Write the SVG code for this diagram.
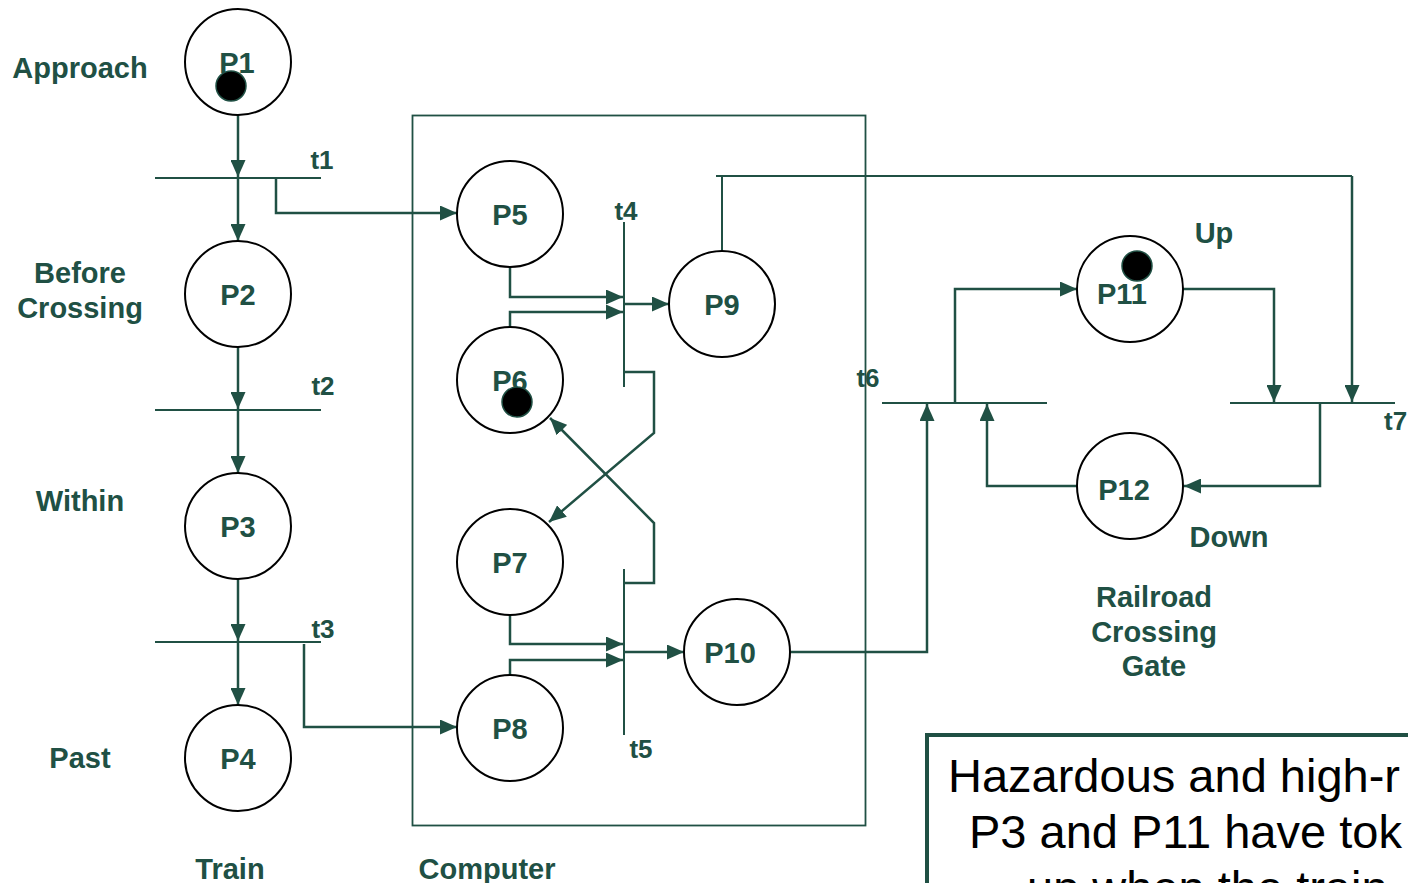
<svg xmlns="http://www.w3.org/2000/svg" width="1408" height="883" viewBox="0 0 1408 883">
<style>
.place{fill:#fff;stroke:#000;stroke-width:2}
.tok{fill:#000;stroke:#205044;stroke-width:1.5}
.lbl{font-family:"Liberation Sans",Arial,sans-serif;font-weight:bold;font-size:29px;fill:#205044;text-anchor:middle}
.tl{font-family:"Liberation Sans",Arial,sans-serif;font-weight:bold;font-size:26px;fill:#205044;text-anchor:middle}
.bar{stroke:#205044;stroke-width:2;fill:none}
.arc{stroke:#205044;stroke-width:2.5;fill:none;marker-end:url(#ah)}
.note{font-family:"Liberation Sans",Arial,sans-serif;font-size:47px;fill:#000}
</style>
<defs>
<marker id="ah" markerUnits="userSpaceOnUse" markerWidth="17" markerHeight="15" refX="17" refY="7.5" orient="auto">
<path d="M0,0 L17,7.5 L0,15 z" fill="#205044"/>
</marker>
</defs>
<rect width="1408" height="883" fill="#fff"/>
<g id="computer-box"><rect x="412.5" y="115.5" width="453" height="710" fill="none" stroke="#205044" stroke-width="1.8"/></g>
<g id="transitions">
<path class="bar" d="M155,178 H321"/>
<path class="bar" d="M155,410 H321"/>
<path class="bar" d="M155,642 H321"/>
<path class="bar" d="M624,222 V387"/>
<path class="bar" d="M624,569 V735"/>
<path class="bar" d="M882,403 H1047"/>
<path class="bar" d="M1230,403 H1395"/>
</g>
<g id="connectors">
<path class="arc" d="M238,115 V177"/>
<path class="arc" d="M238,179 V241"/>
<path class="arc" d="M238,347 V409"/>
<path class="arc" d="M238,411 V473"/>
<path class="arc" d="M238,579 V641"/>
<path class="arc" d="M238,643 V705"/>
<path class="arc" d="M276,177 V213 H457"/>
<path class="arc" d="M304,644 V727 H457"/>
<path class="arc" d="M510,267 V297 H623"/>
<path class="arc" d="M510,327 V312 H623"/>
<path class="arc" d="M624,304 H669"/>
<path class="arc" d="M624,372 H654 V433 L549,522"/>
<path class="arc" d="M624,583 H654 V523 L550,418"/>
<path class="arc" d="M510,615 V644 H623"/>
<path class="arc" d="M510,675 V660 H623"/>
<path class="arc" d="M624,652 H684"/>
<path class="bar" d="M722,251 V176 M716,176 H1352"/>
<path class="arc" d="M1352,176 V402"/>
<path class="arc" d="M791,652 H927 V404"/>
<path class="arc" d="M1077,486 H987 V404"/>
<path class="arc" d="M955,403 V289 H1077"/>
<path class="arc" d="M1183,289 H1274 V402"/>
<path class="arc" d="M1320,403 V486 H1184"/>
</g>
<g id="P1"><circle class="place" cx="238" cy="62" r="53"/><text class="lbl" x="237" y="73">P1</text><circle class="tok" cx="231" cy="86" r="15"/></g>
<g id="P2"><circle class="place" cx="238" cy="294" r="53"/><text class="lbl" x="238" y="305">P2</text></g>
<g id="P3"><circle class="place" cx="238" cy="526" r="53"/><text class="lbl" x="238" y="537">P3</text></g>
<g id="P4"><circle class="place" cx="238" cy="758" r="53"/><text class="lbl" x="238" y="769">P4</text></g>
<g id="P5"><circle class="place" cx="510" cy="214" r="53"/><text class="lbl" x="510" y="225">P5</text></g>
<g id="P6"><circle class="place" cx="510" cy="380" r="53"/><text class="lbl" x="510" y="391">P6</text><circle class="tok" cx="517" cy="402" r="15"/></g>
<g id="P7"><circle class="place" cx="510" cy="562" r="53"/><text class="lbl" x="510" y="573">P7</text></g>
<g id="P8"><circle class="place" cx="510" cy="728" r="53"/><text class="lbl" x="510" y="739">P8</text></g>
<g id="P9"><circle class="place" cx="722" cy="304" r="53"/><text class="lbl" x="722" y="315">P9</text></g>
<g id="P10"><circle class="place" cx="737" cy="652" r="53"/><text class="lbl" x="730" y="663">P10</text></g>
<g id="P11"><circle class="place" cx="1130" cy="289" r="53"/><circle class="tok" cx="1137" cy="266" r="15"/><text class="lbl" x="1122" y="304">P11</text></g>
<g id="P12"><circle class="place" cx="1130" cy="486" r="53"/><text class="lbl" x="1124" y="500">P12</text></g>
<g id="transition-labels">
<text class="tl" x="322" y="169">t1</text>
<text class="tl" x="323" y="395">t2</text>
<text class="tl" x="323" y="638">t3</text>
<text class="tl" x="626" y="220">t4</text>
<text class="tl" x="641" y="758">t5</text>
<text class="tl" x="868" y="387">t6</text>
<text class="tl" x="1384" y="430" style="text-anchor:start">t7</text>
</g>
<g id="labels">
<text class="lbl" x="80" y="78">Approach</text>
<text class="lbl" x="80" y="283">Before</text>
<text class="lbl" x="80" y="318">Crossing</text>
<text class="lbl" x="80" y="511">Within</text>
<text class="lbl" x="80" y="768">Past</text>
<text class="lbl" x="230" y="879">Train</text>
<text class="lbl" x="487" y="879">Computer</text>
<text class="lbl" x="1214" y="243">Up</text>
<text class="lbl" x="1229" y="547">Down</text>
<text class="lbl" x="1154" y="607">Railroad</text>
<text class="lbl" x="1154" y="642">Crossing</text>
<text class="lbl" x="1154" y="676">Gate</text>
</g>
<g id="note">
<rect x="927" y="735" width="520" height="200" fill="#fff" stroke="#205044" stroke-width="4"/>
<text class="note" x="948" y="792">Hazardous and high-r</text>
<text class="note" x="969" y="848">P3 and P11 have tok</text>
<text class="note" x="1027" y="904">up when the train</text>
</g>
</svg>
